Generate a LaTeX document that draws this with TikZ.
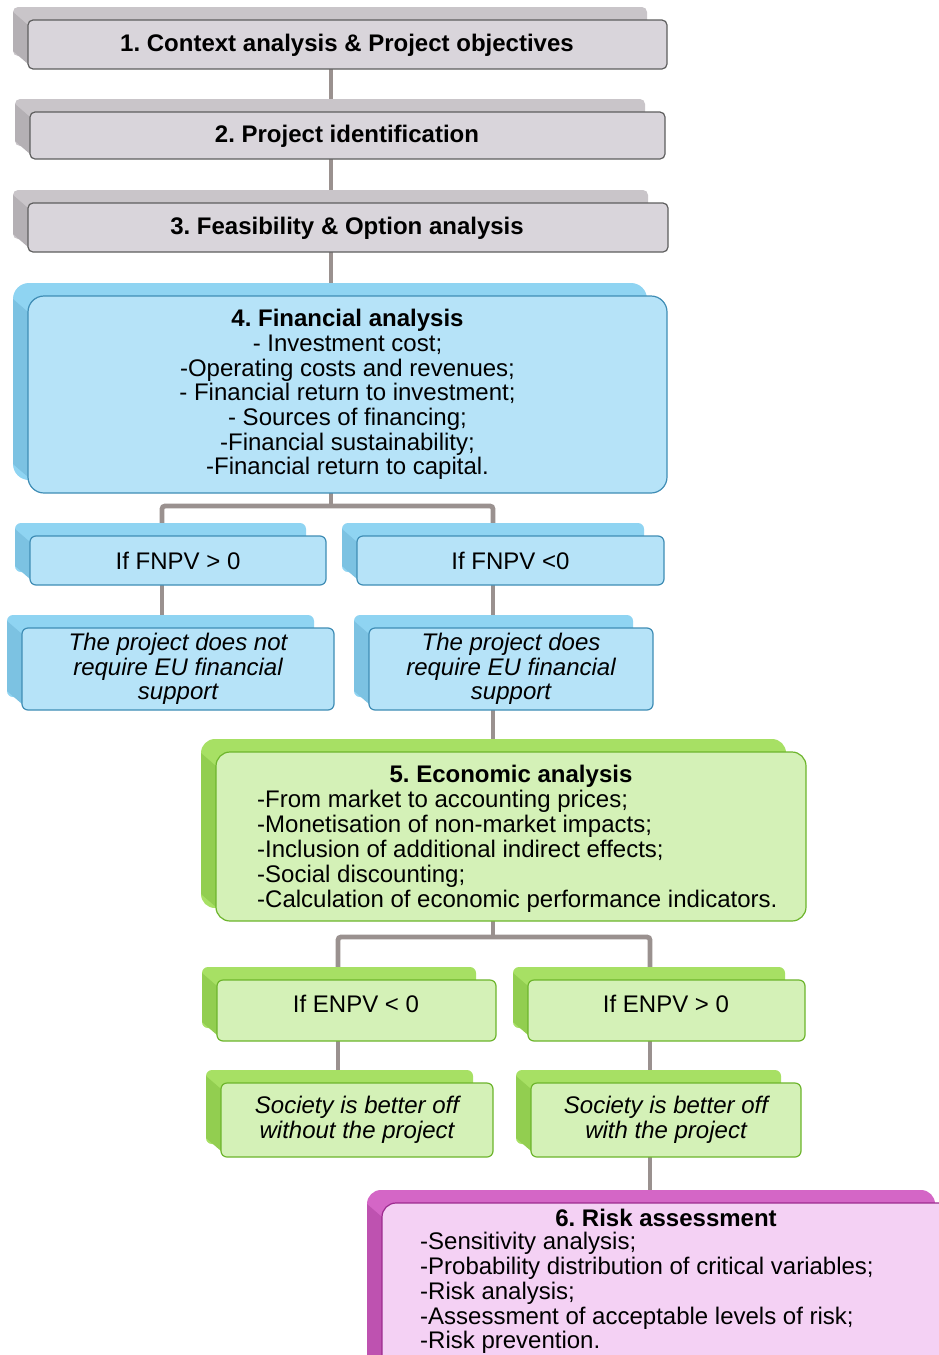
\documentclass[tikz,border=0pt]{standalone}
\usepackage{fontspec}
\setmainfont{Liberation Sans}
\usetikzlibrary{calc,backgrounds}
\definecolor{grayF}{HTML}{D9D5DB}
\definecolor{grayB}{HTML}{C9C5C9}
\definecolor{grayS}{HTML}{B4B0B4}
\definecolor{grayD}{HTML}{5E5E5E}
\definecolor{blueF}{HTML}{B6E3F8}
\definecolor{blueB}{HTML}{8FD4F2}
\definecolor{blueS}{HTML}{7CC2E2}
\definecolor{blueD}{HTML}{3F8DB5}
\definecolor{greenF}{HTML}{D4F1B7}
\definecolor{greenB}{HTML}{A7E064}
\definecolor{greenS}{HTML}{92CE50}
\definecolor{greenD}{HTML}{6DB52C}
\definecolor{pinkF}{HTML}{F4D1F4}
\definecolor{pinkB}{HTML}{D466C6}
\definecolor{pinkS}{HTML}{BE52B0}
\definecolor{pinkD}{HTML}{9C2A8E}
\definecolor{connC}{HTML}{9A918F}
\tikzset{
  conn/.style={draw=connC, line width=4.8pt, rounded corners=3pt},
  txt/.style={font=\fontsize{24}{24.7}\selectfont, inner sep=0pt},
  ttl/.style={txt, font=\fontsize{24}{24.7}\selectfont\bfseries},
  grayBk/.style={fill=grayB}, graySd/.style={fill=grayS},
  grayFr/.style={fill=grayF, draw=grayD, line width=1.2pt, txt},
  blueBk/.style={fill=blueB}, blueSd/.style={fill=blueS},
  blueFr/.style={fill=blueF, draw=blueD, line width=1.2pt, txt},
  greenBk/.style={fill=greenB}, greenSd/.style={fill=greenS},
  greenFr/.style={fill=greenF, draw=greenD, line width=1.2pt, txt},
  pinkBk/.style={fill=pinkB}, pinkSd/.style={fill=pinkS},
  pinkFr/.style={fill=pinkF, draw=pinkD, line width=1.2pt, txt},
}
% #1 name, #2 colour prefix, #3 x1, #4 y1, #5 x2, #6 y2, #7 radius, #8 text
\newcommand\panelbox[8]{%
  \fill[#2Bk, rounded corners=#7pt] ({#3-15},{#4-13}) rectangle ({#5-20},{#6-13});
  \fill[#2Sd] ({#3-15},{#4-13+#7}) -- ({#3},{#4+#7}) -- ({#3},{#6-#7}) -- ({#3-15},{#6-13-#7}) -- cycle;
  \node[#2Fr, rounded corners=#7pt, align=center, minimum width={#5pt-#3pt}, minimum height={#6pt-#4pt}] (#1) at ({(#3+#5)/2},{(#4+#6)/2}) {#8};%
}
\begin{document}
\frenchspacing
\begin{tikzpicture}[x=1pt,y=-1pt]
\useasboundingbox (0,0) rectangle (939,1355);
\clip (0,0) rectangle (939,1355);

\panelbox{b1}{gray}{28}{20}{667}{69}{5}{}
\node[ttl] (t1) at (347,45) {1. Context analysis \& Project objectives};
\panelbox{b2}{gray}{30}{112}{665}{159}{5}{}
\node[ttl] (t2) at (347,136) {2. Project identification};
\panelbox{b3}{gray}{28}{203}{668}{252}{5}{}
\node[ttl] (t3) at (347,228) {3. Feasibility \& Option analysis};
\panelbox{b4}{blue}{28}{296}{667}{493}{16}{\textbf{4. Financial analysis}\\- Investment cost;\\-Operating costs and revenues;\\- Financial return to investment;\\- Sources of financing;\\-Financial sustainability;\\-Financial return to capital.}
\panelbox{f1}{blue}{30}{536}{326}{585}{6}{If FNPV > 0}
\panelbox{f2}{blue}{357}{536}{664}{585}{6}{If FNPV <0}
\panelbox{p1}{blue}{22}{628}{334}{710}{6}{\itshape The project does not\\\itshape require EU financial\\\itshape support}
\panelbox{p2}{blue}{369}{628}{653}{710}{6}{\itshape The project does\\\itshape require EU financial\\\itshape support}
\panelbox{b5}{green}{216}{752}{806}{921}{14}{}
\node[ttl] (t5) at (511,776) {5. Economic analysis};
\node[txt, align=left, anchor=west, font=\fontsize{24}{25}\selectfont] (l5) at (257,851) {-From market to accounting prices;\\-Monetisation of non-market impacts;\\-Inclusion of additional indirect effects;\\-Social discounting;\\-Calculation of economic performance indicators.};
\panelbox{e1}{green}{217}{980}{496}{1041}{6}{}
\node[txt] (te1) at (356,1004) {If ENPV < 0};
\panelbox{e2}{green}{528}{980}{805}{1041}{6}{}
\node[txt] (te2) at (666,1004) {If ENPV > 0};
\panelbox{s1}{green}{221}{1083}{493}{1157}{6}{\itshape Society is better off\\\itshape without the project}
\panelbox{s2}{green}{531}{1083}{801}{1157}{6}{\itshape Society is better off\\\itshape with the project}
\panelbox{b6}{pink}{382}{1203}{955}{1390}{14}{}
\node[ttl] (t6) at (666,1218) {6. Risk assessment};
\node[txt, align=left, anchor=west, font=\fontsize{24}{24.8}\selectfont] (l6) at (420,1293) {-Sensitivity analysis;\\-Probability distribution of critical variables;\\-Risk analysis;\\-Assessment of acceptable levels of risk;\\-Risk prevention.};

\coordinate (xm) at (331,0);
\coordinate (xa) at (162,0);
\coordinate (xb) at (493,0);
\coordinate (xc) at (338,0);
\coordinate (xd) at (650,0);
\coordinate (j1) at (331,506);
\coordinate (j2) at (493,937);
\begin{scope}[on background layer]
\fill[white] (0,0) rectangle (939,1355);
\draw[conn] (b1.center -| xm) -- (b2.center -| xm);
\draw[conn] (b2.center -| xm) -- (b3.center -| xm);
\draw[conn] (b3.center -| xm) -- (b4.center -| xm);
\draw[conn] (b4.center -| xm) -- (j1);
\draw[conn] (f1.center -| xa) |- (j1) -| (f2.center -| xb);
\draw[conn] (f1.center -| xa) -- (p1.center -| xa);
\draw[conn] (f2.center -| xb) -- (p2.center -| xb);
\draw[conn] (p2.center -| xb) -- (b5.center -| xb);
\draw[conn] (b5.center -| xb) -- (j2);
\draw[conn] (e1.center -| xc) |- (j2) -| (e2.center -| xd);
\draw[conn] (e1.center -| xc) -- (s1.center -| xc);
\draw[conn] (e2.center -| xd) -- (s2.center -| xd);
\draw[conn] (s2.center -| xd) -- (b6.center -| xd);
\end{scope}
\end{tikzpicture}
\end{document}
